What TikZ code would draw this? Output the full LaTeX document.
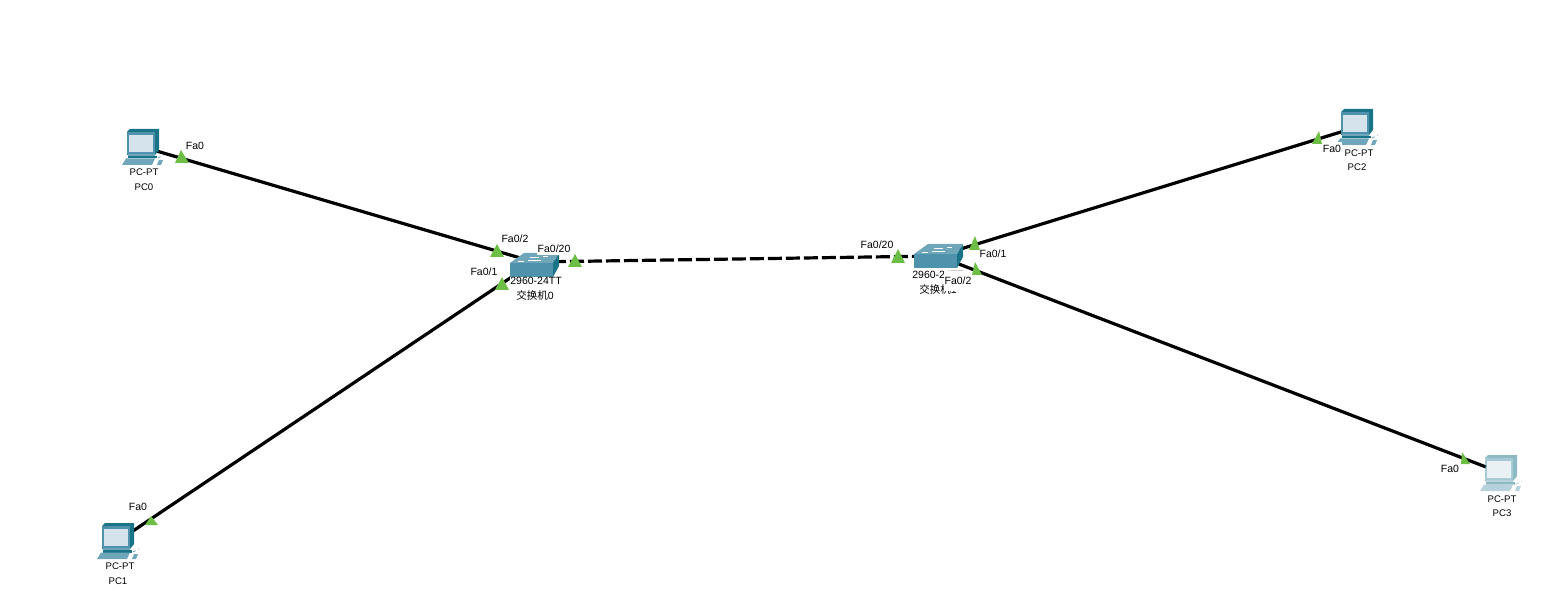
\documentclass[tikz,border=0pt]{standalone}
\usepackage{fontspec}
\setmainfont{Liberation Sans}
\newfontfamily\cjk{Noto Sans CJK SC}
\definecolor{portgreen}{HTML}{6CBE45}
\definecolor{tealdark}{HTML}{1A7488}
\definecolor{tealmid}{HTML}{4E93AB}
\definecolor{teallight}{HTML}{6FA6BA}
\definecolor{screenblue}{HTML}{D5E4EC}
\tikzset{
  devtext/.style={fill=white,inner sep=.5pt,font=\fontsize{10.5}{12}\selectfont},
  pctext/.style={inner sep=0pt,font=\fontsize{9.6}{12}\selectfont},
  portname/.style={fill=white,inner sep=1pt,minimum height=13pt,font=\fontsize{10.5}{12}\selectfont},
  link/.style={draw=black,line width=3.2pt},
  trunk/.style={link,dash pattern=on 14pt off 4pt},
  pcicon/.pic={
    \fill[tealdark] (-16,-15) -- (-13,-18) -- (16,-18) -- (16,3) -- (12,8) -- (-16,8) -- cycle;
    \fill[tealmid] (-16,-15) rectangle (12,7);
    \fill[screenblue] (-14,-12) rectangle (10,5);
    \fill[teallight] (-15,7) rectangle (12,9);
    \fill[tealdark] (-15,9) rectangle (14,11.5);
    \fill[teallight] (-17,11.5) -- (12,11.5) -- (9,18) -- (-21,18) -- cycle;
    \fill[teallight] (16,13) -- (20,13) -- (18,18) -- (14,18) -- cycle;
    \draw[teallight,line width=.7pt,dashed] (15,11) -- (21,8);
  },
  swicon/.pic={
    \fill[tealdark] (19,-2) -- (25,-12) -- (25,1) -- (19,12) -- cycle;
    \fill[teallight] (-24,-2) -- (-10,-12) -- (25,-12) -- (19,-2) -- cycle;
    \fill[tealmid] (-24,-2) rectangle (19,12);
    \draw[white,line width=.8pt] (-4,-8) -- (5,-8) (9,-9) -- (14,-9) (-16,-4) -- (-10,-4) (-6,-5) -- (7,-5);
  }
}
% green triangle: apex x, apex y, base left, base right, base y
\newcommand{\portmark}[5]{\fill[portgreen] (#1,#2) -- (#4,#5) -- (#3,#5) -- cycle;}
\begin{document}
\begin{tikzpicture}[x=1pt,y=-1pt]
\useasboundingbox (0,0) rectangle (1553,609);
\coordinate (PC0) at (143,147);
\coordinate (PC1) at (118,541);
\coordinate (PC2) at (1357,127);
\coordinate (PC3) at (1486,467);
\coordinate (SW0) at (534,262);
\coordinate (SW1) at (938,256);
% links
\draw [link] (PC0) -- (SW0);
\draw [link] (PC1) -- (SW0);
\draw [trunk] (SW0) -- (SW1);
\draw [link] (PC2) -- (SW1);
\draw [link] (PC3) -- (SW1);
% devices
\pic at (PC0) {pcicon};
\pic at (PC1) {pcicon};
\pic at (PC2) {pcicon};
\begin{scope}[transparency group,opacity=.5]
\pic at (1501,473) {pcicon};
\end{scope}
\pic at (534,265) {swicon};
\pic at (SW1) {swicon};
% device names
\node (pc0type) at (144,172) [pctext] {PC-PT};
\node (pc0name) at (144,187) [pctext] {PC0};
\node (pc1type) at (120,566) [pctext] {PC-PT};
\node (pc1name) at (118,581) [pctext] {PC1};
\node (pc2type) at (1359,153) [pctext] {PC-PT};
\node (pc2name) at (1357,167) [pctext] {PC2};
\node (pc3type) at (1502,499) [pctext] {PC-PT};
\node (pc3name) at (1502,513) [pctext] {PC3};
\node (sw0type) at (536,281) [devtext] {2960-24TT};
\node (sw0name) at (535,295) [devtext] {{\cjk 交换机}0};
\node (sw1type) at (938,275) [devtext] {2960-24TT};
\node (sw1name) at (938,289) [devtext] {{\cjk 交换机}1};
% port names
\node (p0) at (195,146) [portname] {Fa0};
\node (p1) at (138,507) [portname] {Fa0};
\node (p2) at (1332,149) [portname] {Fa0};
\node (p3) at (1450,469) [portname] {Fa0};
\node (s0a) at (515,239) [portname] {Fa0/2};
\node (s0b) at (484,272) [portname] {Fa0/1};
\node (s0c) at (554,249) [portname] {Fa0/20};
\node (s1a) at (877,245) [portname] {Fa0/20};
\node (s1b) at (993,254) [portname] {Fa0/1};
\node (s1c) at (958,281) [portname,minimum height=20pt] {Fa0/2};
% link state marks
\portmark{181}{150}{175}{189}{163}
\portmark{151}{516}{145}{158}{525}
\portmark{1319}{131}{1312}{1322}{144}
\portmark{1462}{452}{1461}{1470}{464}
\portmark{497}{244}{490}{504}{257}
\portmark{502}{277}{495}{509}{290}
\portmark{575}{254}{568}{582}{267}
\portmark{898}{249}{891}{905}{263}
\portmark{975}{236}{969}{980}{250}
\portmark{975}{262}{972}{982}{275}
\end{tikzpicture}
\end{document}
